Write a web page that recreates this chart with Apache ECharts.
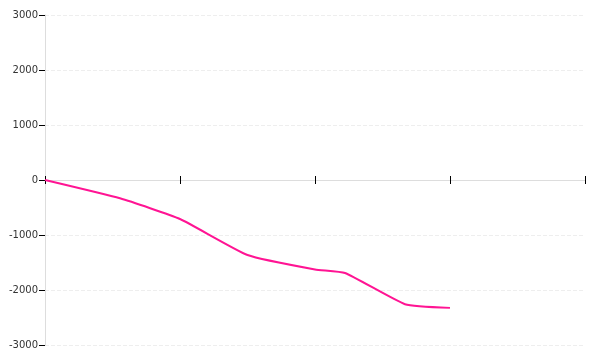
<!DOCTYPE html>
<html>
<head>
<meta charset="utf-8">
<script src="https://cdn.jsdelivr.net/npm/echarts@6/dist/echarts.min.js"></script>
<style>html,body{margin:0;padding:0;background:#fff}#c{width:600px;height:360px}</style>
</head>
<body>
<div id="c"></div>
<script>
var xValues = [0, 5, 9, 13.5, 18, 20, 24, 27];
var yValues = [0, -333, -709, -1364, -1627, -1691, -2258, -2325];
var yTicks = [-3000, -2000, -1000, 0, 1000, 2000, 3000];

var chart = echarts.init(document.getElementById('c'), null, {renderer: 'canvas'});
var points = xValues.map(function (x, i) { return [x, yValues[i]]; });
var axisFont = {fontFamily: 'DejaVu Sans', fontSize: 10, color: '#333'};
chart.setOption({
  animation: false,
  backgroundColor: '#fff',
  grid: {left: 45, right: 15, top: 15, bottom: 15, containLabel: false},
  xAxis: [{
    type: 'value', min: 0, max: 36, interval: 9,
    axisLine: {onZero: true, lineStyle: {color: '#ddd', width: 1}},
    axisTick: {show: true, length: 4, lineStyle: {color: '#000', width: 1}},
    axisLabel: {show: false},
    splitLine: {show: false}
  }, {
    type: 'value', min: 0, max: 36, interval: 9, position: 'bottom', offset: -165,
    axisLine: {show: false, onZero: false},
    axisTick: {show: true, inside: true, length: 4, lineStyle: {color: '#000', width: 1}},
    axisLabel: {show: false},
    splitLine: {show: false}
  }],
  yAxis: {
    type: 'value', min: yTicks[0], max: yTicks[yTicks.length - 1], interval: 1000,
    axisLine: {show: true, lineStyle: {color: '#ddd', width: 1}},
    axisTick: {show: true, length: 6, lineStyle: {color: '#000', width: 1}},
    axisLabel: Object.assign({margin: 7, formatter: function (v) { return String(v); }}, axisFont),
    splitLine: {show: true, lineStyle: {color: '#eee', type: 'dashed', width: 1}}
  },
  series: [{
    type: 'line', xAxisIndex: 0, data: points, smooth: 0.15,
    showSymbol: false, symbol: 'none',
    lineStyle: {color: '#ff1493', width: 2}
  }]
});
</script>
</body>
</html>
